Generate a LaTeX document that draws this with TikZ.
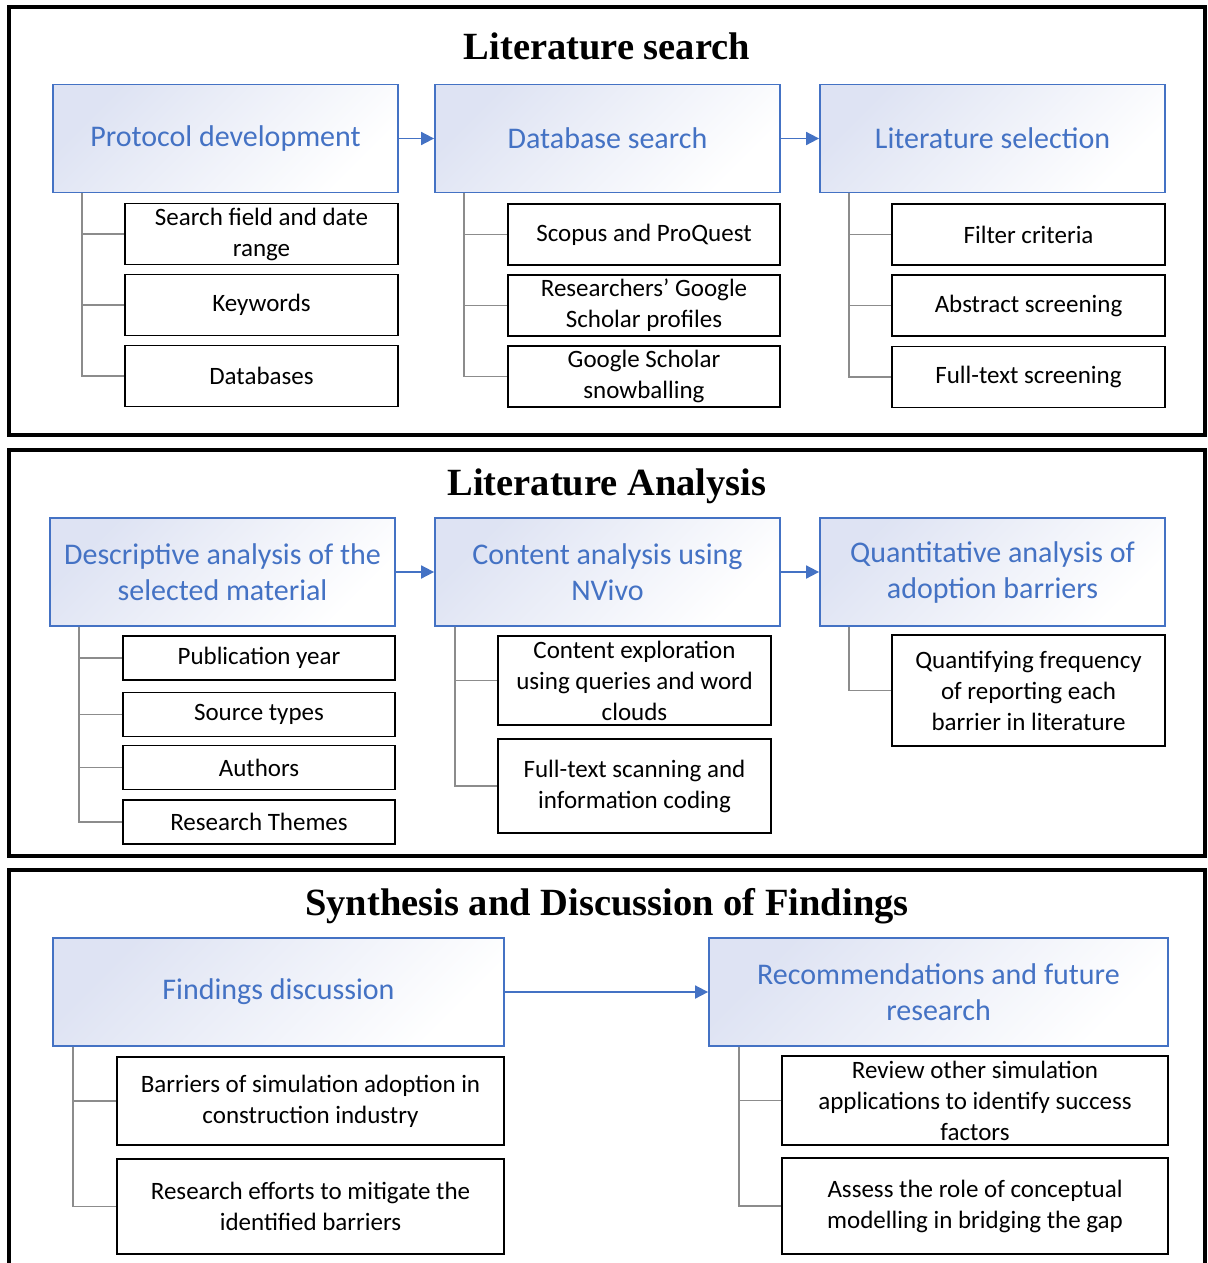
\documentclass[tikz,border=0pt]{standalone}
\usepackage{fontspec}
\setmainfont{Carlito}
\newfontfamily\titlefont{Liberation Serif}
\usetikzlibrary{arrows.meta,positioning}
\definecolor{hdrblue}{RGB}{68,114,196}
\definecolor{hdrfill}{RGB}{222,227,243}
\definecolor{treegray}{RGB}{140,140,140}
\tikzstyle{panel}=[draw=black,line width=3.5pt]
\tikzstyle{title}=[font=\titlefont\bfseries\fontsize{38.5}{44}\selectfont]
\tikzstyle{header}=[draw=hdrblue,line width=1.8pt,top color=hdrfill,bottom color=white,shading angle=45,text=hdrblue,align=center,inner sep=0pt,minimum height=108pt,font=\fontsize{30}{36}\selectfont]
\tikzstyle{item}=[draw=black,line width=1.8pt,fill=white,align=center,inner sep=0pt,font=\fontsize{25}{31}\selectfont]
\tikzstyle{flow}=[draw=hdrblue,line width=1.8pt,-{Triangle[length=13pt,width=13pt]}]
\tikzstyle{tree}=[draw=treegray,line width=1.3pt]

\begin{document}
\begin{tikzpicture}[x=1pt,y=-1pt]
\useasboundingbox (0,0) rectangle (1207,1263);

% the three panels
\draw[panel] (9,7) rectangle (1205,435);
\draw[panel] (9,450) rectangle (1205,856);
\draw[panel] (9,1263) -- (9,870) -- (1205,870) -- (1205,1263);

\node[title] (t1) at (607,46) {Literature search};
\node[title] (t2) at (607,486) {Literature Analysis};
\node[title] (t3) at (607,906) {Synthesis and Discussion of Findings};

% first we draw the headers
\node[header,minimum width=345pt] (pd) at (225.5,138.5) {Protocol development};
\node[header,minimum width=345pt] (ds) at (607.5,138.5) {Database search};
\node[header,minimum width=345pt] (ls) at (992.5,138.5) {Literature selection};
\node[header,minimum width=345pt] (da) at (222.5,572) {Descriptive analysis of the\\selected material};
\node[header,minimum width=345pt] (ca) at (607.5,572) {Content analysis using\\NVivo};
\node[header,minimum width=345pt] (qa) at (992.5,572) {Quantitative analysis of\\adoption barriers};
\node[header,minimum width=451pt] (fd) at (278.5,992) {Findings discussion};
\node[header,minimum width=459pt] (rf) at (938.5,992) {Recommendations and future\\research};

% then the items under each header
\foreach \name/\y/\txt in {pd1/234/{Search field and date\\range},pd2/305/Keywords,pd3/376/Databases}
\node[item,minimum width=273pt,minimum height=61pt] (\name) at (261.5,\y) {\txt};
\foreach \name/\y/\txt in {ds1/234.5/Scopus and ProQuest,ds2/305.5/{Researchers’ Google\\Scholar profiles},ds3/376.5/{Google Scholar\\snowballing}}
\node[item,minimum width=272pt,minimum height=61pt] (\name) at (644,\y) {\txt};
\foreach \name/\y/\txt in {ls1/234.5/Filter criteria,ls2/305.5/Abstract screening,ls3/377/Full-text screening}
\node[item,minimum width=273pt,minimum height=61pt] (\name) at (1028.5,\y) {\txt};

\foreach \name/\y/\txt in {da1/658/Publication year,da2/714.5/Source types,da3/767.5/Authors,da4/822/Research Themes}
\node[item,minimum width=272pt,minimum height=44pt] (\name) at (259,\y) {\txt};
\node[item,minimum width=273pt,minimum height=89pt] (ca1) at (634.5,680.5) {Content exploration\\using queries and word\\clouds};
\node[item,minimum width=273pt,minimum height=94pt] (ca2) at (634.5,786) {Full-text scanning and\\information coding};
\node[item,minimum width=273pt,minimum height=111pt] (qa1) at (1028.5,690.5) {Quantifying frequency\\of reporting each\\barrier in literature};

\node[item,minimum width=387pt,minimum height=88pt] (fd1) at (310.5,1101) {Barriers of simulation adoption in\\construction industry};
\node[item,minimum width=387pt,minimum height=95pt] (fd2) at (310.5,1206.5) {Research efforts to mitigate the\\identified barriers};
\node[item,minimum width=386pt,minimum height=89pt] (rf1) at (975,1100.5) {Review other simulation\\applications to identify success\\factors};
\node[item,minimum width=386pt,minimum height=96pt] (rf2) at (975,1206) {Assess the role of conceptual\\modelling in bridging the gap};

% tree lines from headers to items
\foreach \kid in {pd1,pd2,pd3}
\draw[tree] ([xshift=30pt]pd.south west) |- (\kid.west);
\foreach \kid in {ds1,ds2,ds3}
\draw[tree] ([xshift=30pt]ds.south west) |- (\kid.west);
\foreach \kid in {ls1,ls2,ls3}
\draw[tree] ([xshift=30pt]ls.south west) |- (\kid.west);
\foreach \kid in {da1,da2,da3,da4}
\draw[tree] ([xshift=30pt]da.south west) |- (\kid.west);
\foreach \kid in {ca1,ca2}
\draw[tree] ([xshift=21pt]ca.south west) |- (\kid.west);
\draw[tree] ([xshift=30pt]qa.south west) |- (qa1.west);
\foreach \kid in {fd1,fd2}
\draw[tree] ([xshift=21pt]fd.south west) |- (\kid.west);
\foreach \kid in {rf1,rf2}
\draw[tree] ([xshift=31pt]rf.south west) |- (\kid.west);

% arrows between headers
\foreach \source/\dest in {pd/ds,ds/ls,da/ca,ca/qa,fd/rf}
\path[flow] (\source) -- (\dest);

\end{tikzpicture}
\end{document}
